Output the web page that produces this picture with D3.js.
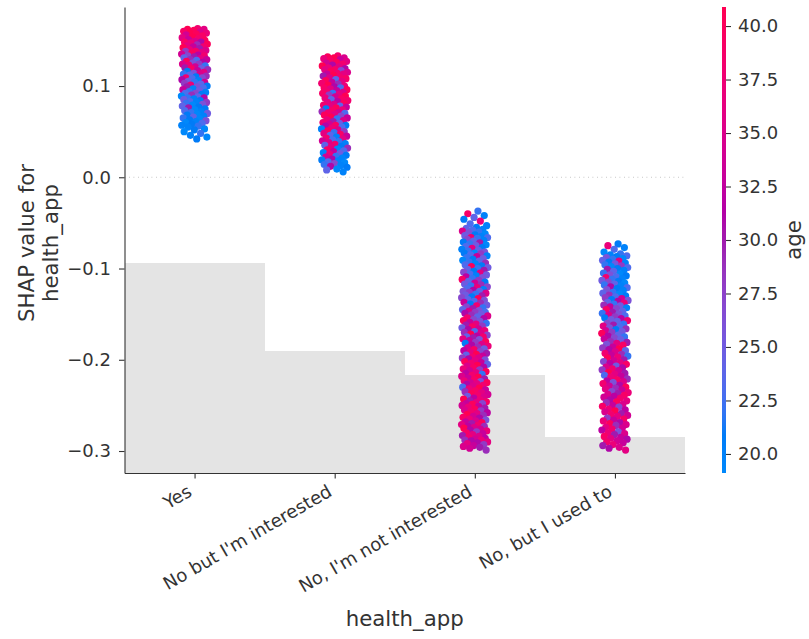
<!DOCTYPE html>
<html>
<head>
<meta charset="utf-8">
<script src="https://cdn.jsdelivr.net/npm/d3@7/dist/d3.min.js"></script>
<style>
  html, body { margin: 0; padding: 0; background: #fff; }
  svg { display: block; font-family: "DejaVu Sans", sans-serif; }
</style>
</head>
<body>
<script>
// Feature categories on the x axis
const categories = ["Yes", "No but I'm interested", "No, I'm not interested", "No, but I used to"];

// Number of respondents per category (background histogram)
const counts = [2245, 1310, 1050, 385];

// Axis ticks
const shapTicks = [0.1, 0.0, -0.1, -0.2, -0.3];
const ageTicks = [20, 22.5, 25, 27.5, 30, 32.5, 35, 37.5, 40];

// Points per category: [SHAP value x 1000, age]
const yesPoints = [[163,38],[162,41],[162,36],[161,40],[160,39],[159,35],[158,42],[158,37],[157,40],[156,34],[155,39],[154,41],[153,36],[152,38],[151,33],[150,40],
[149,35],[148,39],[148,31],[147,37],[146,40],[145,29],[144,36],[143,38],[143,33],[142,41],[141,30],[140,37],[139,35],[138,39],[138,28],[137,36],[136,40],[135,34],
[134,32],[133,27],[133,38],[132,30],[131,24],[130,36],[129,29],[129,33],[128,23],[127,40],[126,31],[125,26],[124,35],[124,28],[123,37],[122,22],[121,34],[120,30],[119,25],[119,39],[118,29],[117,33],[116,21],[115,36],
[114,26],[113,22],[113,35],[112,24],[111,29],[110,21],[109,38],[109,27],[108,23],[107,31],[106,20],[105,25],[104,34],[104,22],[103,28],[102,24],[101,37],[100,21],[99,26],[99,30],[98,23],[97,20],[96,33],[95,25],
[94,22],[93,20],[92,27],[92,23],[91,21],[90,29],[89,19],[88,24],[87,22],[87,31],[86,20],[85,25],[84,21],[83,23],[82,28],[82,20],[81,22],[80,26],[79,19],[78,24],[77,21],[76,30],
[75,21],[74,19],[73,23],[72,20],[71,22],[70,25],[69,19],[68,21],[67,20],[66,24],[65,22],[64,19],[63,21],[62,26],[61,20],[60,19],[59,23],[58,21],[57,20],[56,22],
[55,20],[53,19],[52,21],[50,19],[48,22],[46,20],[44,19],[42,21]];

const interestedPoints = [[133,38],[132,40],[131,35],[131,41],[130,37],[129,33],[128,39],[127,36],[126,40],[125,34],[124,38],[123,31],[122,41],[121,36],
[120,37],[119,31],[118,39],[118,36],[117,27],[116,40],[115,35],[114,38],[113,33],[113,36],[112,41],[111,30],[110,38],[109,35],[108,39],[107,24],[106,40],[105,36],[104,33],[103,38],[102,29],[101,41],
[100,37],[99,31],[98,39],[98,23],[97,36],[96,40],[95,33],[94,38],[93,35],[92,22],[92,39],[91,36],[90,28],[89,41],[88,34],[87,37],[86,39],[85,24],[84,38],[83,32],[82,36],[81,40],
[80,35],[79,38],[78,24],[78,36],[77,33],[76,40],[75,21],[74,37],[73,39],[72,29],[71,34],[71,38],[70,23],[69,36],[68,40],[67,27],[66,41],[65,33],[64,22],[63,37],[62,35],[61,30],
[60,38],[59,25],[58,34],[57,21],[57,39],[56,31],[55,23],[54,37],[53,20],[52,35],[51,40],[50,28],[49,22],[48,36],[47,39],[46,24],[45,33],[44,20],[43,38],[42,36],[41,23],[40,34],
[39,22],[38,35],[37,20],[36,38],[35,24],[34,21],[33,36],[32,29],[31,19],[30,39],[29,23],[28,33],[27,20],[26,25],[25,37],[24,21],[23,22],[22,34],[21,20],[20,31],
[19,21],[18,20],[17,23],[16,19],[15,27],[14,22],[13,20],[12,31],[11,21],[9,19],[8,24],[6,20]];

const notInterestedPoints = [[-37,22],[-40,39],[-42,20],[-44,24],[-46,21],[-48,37],[-51,23],[-53,20],
[-55,21],[-56,24],[-57,20],[-58,23],[-59,35],[-60,22],[-61,26],[-62,19],[-63,21],[-64,25],
[-65,20],[-66,38],[-66,23],[-67,22],[-68,27],[-69,20],[-70,24],[-71,21],[-72,30],[-73,22],
[-74,19],[-75,25],[-76,23],[-77,21],[-78,36],[-79,20],[-80,24],[-81,22],[-82,26],[-83,19],
[-83,21],[-84,28],[-85,23],[-86,20],[-87,33],[-88,22],[-89,25],[-90,21],[-91,19],[-92,24],
[-93,22],[-94,29],[-95,20],[-96,23],[-97,21],[-98,40],[-99,25],[-100,22],
[-101,24],[-102,30],[-103,21],[-104,27],[-105,36],[-106,23],[-107,25],[-108,20],[-109,32],[-110,26],
[-111,22],[-112,39],[-113,28],[-114,24],[-115,21],[-116,34],[-117,25],[-118,29],[-119,22],[-120,27],
[-121,37],[-122,23],[-123,20],[-124,31],[-125,26],[-125,24],[-126,28],[-127,35],[-128,22],[-129,25],
[-130,30],[-131,21],[-132,27],[-133,40],[-134,24],[-135,26],[-136,23],[-137,33],[-138,29],[-139,21],
[-140,25],[-141,38],[-142,27],[-143,22],[-144,30],[-145,24],[-146,26],[-147,35],[-148,23],[-148,28],
[-149,31],[-150,25],
[-151,29],[-152,35],[-153,24],[-154,38],[-155,31],[-156,27],[-157,40],[-158,26],[-159,33],[-160,22],
[-161,36],[-162,30],[-163,28],[-164,39],[-165,25],[-166,34],[-167,31],[-168,37],[-169,23],[-170,29],
[-171,35],[-172,41],[-173,27],[-174,32],[-175,24],[-175,38],[-176,30],[-177,36],[-178,26],[-179,33],
[-180,40],[-181,28],[-182,21],[-183,35],[-184,31],[-185,37],[-186,29],[-187,34],[-188,25],[-189,39],
[-190,32],[-191,27],[-192,36],[-193,30],[-194,41],[-195,24],[-196,33],[-197,38],[-198,28],[-198,35],
[-199,31],[-200,26],
[-201,36],[-202,40],[-203,33],[-204,38],[-205,24],[-206,41],[-207,35],[-208,31],[-209,39],[-210,37],
[-211,28],[-212,34],[-213,40],[-214,36],[-215,32],[-216,22],[-217,38],[-218,35],[-219,41],[-220,33],
[-221,30],[-222,39],[-223,37],[-224,26],[-225,34],[-225,40],[-226,36],[-227,31],[-228,38],[-229,35],
[-230,23],[-231,41],[-232,37],[-233,33],[-234,39],[-235,29],[-236,36],[-237,40],[-238,34],[-239,38],
[-240,25],[-241,35],[-242,32],[-243,41],[-244,37],[-245,30],[-246,39],[-247,36],[-248,33],[-248,27],
[-249,40],[-250,34],
[-251,33],[-252,37],[-253,30],[-254,40],[-255,35],[-256,28],[-257,38],[-258,32],[-259,36],[-260,41],
[-261,29],[-262,34],[-263,39],[-264,31],[-265,37],[-266,26],[-267,35],[-268,33],[-269,40],[-270,30],
[-271,36],[-272,38],[-273,32],[-273,29],[-274,35],[-275,41],[-276,34],[-277,31],[-278,37],[-279,28],
[-280,39],[-281,33],[-282,36],[-283,30],[-284,35],[-285,38],[-286,32],[-287,34],[-288,29],[-288,37],
[-289,31],[-290,36],
[-291,31],[-292,36],[-293,28],[-294,33],[-295,35],[-296,30],[-297,34],[-299,29]];

const usedToPoints = [[-73,21],[-75,37],[-77,20],[-79,23],[-82,19],[-84,22],
[-85,20],[-86,23],[-87,21],[-88,26],[-89,19],[-90,22],[-91,24],[-92,36],[-93,21],[-94,20],
[-95,25],[-96,22],[-97,28],[-98,19],[-99,23],[-100,21],[-101,30],[-102,20],[-103,24],[-105,22],
[-106,19],[-107,26],[-108,21],[-109,23],[-110,38],[-111,20],[-112,22],[-113,25],[-114,21],[-115,27],
[-116,19],[-117,24],[-118,22],[-119,20],[-120,31],[-121,23],[-122,21],[-123,26],[-124,20],[-126,22],
[-127,24],[-128,19],[-129,29],[-130,21],
[-131,23],[-132,28],[-133,34],[-134,21],[-135,26],[-136,31],[-137,24],[-138,37],[-139,22],[-140,29],
[-141,25],[-142,33],[-143,20],[-144,27],[-145,39],[-147,24],[-148,30],[-149,22],[-150,26],[-151,35],
[-152,23],[-153,28],[-154,21],[-155,32],[-156,25],[-157,38],[-158,24],[-160,27],[-161,22],[-162,30],
[-163,36],[-164,23],[-165,26],[-166,29],[-167,21],[-168,34],[-169,25],[-170,28],[-171,40],[-173,24],
[-174,31],[-175,22],[-176,27],[-177,33],[-178,25],[-180,29],
[-181,30],[-182,36],[-183,26],[-184,39],[-186,33],[-187,28],[-188,41],[-189,31],[-190,24],[-191,35],
[-193,38],[-194,29],[-195,33],[-196,22],[-197,37],[-198,40],[-200,30],[-201,34],[-202,27],[-203,36],
[-204,32],[-205,39],[-207,25],[-208,35],[-209,31],[-210,38],[-211,28],[-212,34],[-214,41],[-215,30],
[-216,36],[-217,23],[-218,33],[-219,37],[-221,29],[-222,39],[-223,32],[-224,35],[-225,26],[-226,38],
[-228,31],[-229,34],[-230,40],[-231,29],[-232,36],[-233,33],[-235,27],[-236,37],[-237,30],[-238,35],
[-239,39],[-240,32],
[-241,34],[-242,38],[-244,31],[-245,36],[-246,40],[-247,29],[-249,35],[-250,33],[-251,39],[-252,27],
[-254,37],[-255,32],[-256,41],[-257,35],[-259,30],[-260,38],[-261,34],[-262,36],[-264,28],[-265,39],
[-266,33],[-267,37],[-269,31],[-270,40],[-271,35],[-272,29],[-274,36],[-275,34],[-276,38],[-277,32],
[-279,26],[-280,37],[-281,35],[-282,30],[-284,39],[-285,33],[-286,36],[-287,31],[-289,34],[-290,38],
[-291,33],[-293,37],[-294,30],[-296,35],[-297,31],[-299,36]];

const pointsByCategory = [yesPoints, interestedPoints, notInterestedPoints, usedToPoints];

// ---------------------------------------------------------------------------
const W = 809, H = 639;
const plot = { left: 124.5, right: 685, top: 7, bottom: 473 };
const textColor = "#333333";
const tickFont = 18, labelFont = 21.3;

const svg = d3.select("body").append("svg")
  .attr("width", W).attr("height", H)
  .attr("viewBox", `0 0 ${W} ${H}`);

const x = d3.scaleLinear().domain([-0.5, 3.5]).range([plot.left, plot.right]);
const y = d3.scaleLinear().domain([-0.3241, 0.1866]).range([plot.bottom, plot.top]);
const total = d3.sum(counts);
const yHist = d3.scaleLinear().domain([0, total]).range([plot.bottom, plot.top]);
const ageDomain = [19.11, 40.89];
const ageScale = d3.scaleLinear().domain(ageDomain).range([plot.bottom, plot.top]);

// Blue -> purple -> red map interpolated in LCH space
function redBlue(t) {
  t = Math.max(0, Math.min(1, t));
  const l = t < 0.5 ? 54 + (40 - 54) * (t / 0.5) : 40 + (54 - 40) * ((t - 0.5) / 0.5);
  const c = 70 + (90 - 70) * t;
  const h = 266.93 + (380.32 - 266.93) * t;
  return d3.hcl(h % 360, c, l).formatHex();
}
const ageColor = a => redBlue((a - ageDomain[0]) / (ageDomain[1] - ageDomain[0]));

// Background histogram of category counts
svg.append("g").selectAll("rect")
  .data(counts)
  .join("rect")
  .attr("x", (d, i) => x(i - 0.5))
  .attr("width", (d, i) => x(i + 0.5) - x(i - 0.5))
  .attr("y", d => yHist(d))
  .attr("height", d => plot.bottom - yHist(d))
  .attr("fill", "#000")
  .attr("fill-opacity", 0.105)
  .attr("shape-rendering", "crispEdges");

// Zero reference line
svg.append("line")
  .attr("x1", plot.left).attr("x2", plot.right)
  .attr("y1", y(0)).attr("y2", y(0))
  .attr("stroke", "#aaaaaa").attr("stroke-width", 0.8)
  .attr("stroke-dasharray", "0.8,3.7");

// Jittered points, coloured by age
const golden = 0.6180339887;
const jitterWidth = 0.19;
const dots = svg.append("g");
pointsByCategory.forEach((pts, c) => {
  dots.selectAll(null)
    .data(pts)
    .join("circle")
    .attr("cx", (d, i) => x(c + (((i + 1) * golden) % 1 - 0.5) * jitterWidth))
    .attr("cy", d => y(d[0] / 1000))
    .attr("r", 3.6)
    .attr("fill", d => ageColor(d[1]));
});

// Y axis
const yAxis = svg.append("g")
  .attr("transform", `translate(${plot.left},0)`)
  .call(d3.axisLeft(y).tickValues(shapTicks).tickFormat(d3.format(".1f"))
    .tickSizeOuter(0).tickSizeInner(5.5).tickPadding(8));
yAxis.select(".domain").attr("stroke", textColor).attr("stroke-width", 1.1);
yAxis.selectAll(".tick line").attr("stroke", textColor).attr("stroke-width", 1.1);
yAxis.selectAll(".tick text").attr("fill", textColor)
  .style("font-size", tickFont + "px").style("font-family", "DejaVu Sans");

// X axis
const xAxis = svg.append("g")
  .attr("transform", `translate(0,${plot.bottom})`)
  .call(d3.axisBottom(x).tickValues(d3.range(categories.length)).tickFormat(i => categories[i])
    .tickSizeOuter(0).tickSizeInner(5.5));
xAxis.select(".domain").attr("stroke", textColor).attr("stroke-width", 1.1);
xAxis.selectAll(".tick line").attr("stroke", textColor).attr("stroke-width", 1.1);
xAxis.selectAll(".tick text")
  .attr("fill", textColor)
  .style("font-size", tickFont + "px").style("font-family", "DejaVu Sans")
  .attr("text-anchor", "end")
  .attr("dy", null)
  .attr("y", 0)
  .attr("transform", "translate(-2,22) rotate(-30)");

// Axis titles
svg.append("text")
  .attr("x", (plot.left + plot.right) / 2).attr("y", 626)
  .attr("text-anchor", "middle")
  .attr("fill", textColor)
  .style("font-size", labelFont + "px")
  .text("health_app");

const yTitle = svg.append("text")
  .attr("transform", `translate(0,${(plot.top + plot.bottom) / 2 + 3}) rotate(-90)`)
  .attr("text-anchor", "middle")
  .attr("fill", textColor)
  .style("font-size", labelFont + "px");
yTitle.append("tspan").attr("x", 0).attr("y", 34).text("SHAP value for");
yTitle.append("tspan").attr("x", 0).attr("y", 58).text("health_app");

// Colour bar for age
const defs = svg.append("defs");
const grad = defs.append("linearGradient")
  .attr("id", "ageGradient")
  .attr("x1", 0).attr("y1", 1).attr("x2", 0).attr("y2", 0);
d3.range(0, 1.0001, 0.02).forEach(t => {
  grad.append("stop").attr("offset", t).attr("stop-color", redBlue(t));
});
const cbX = 722, cbW = 4;
svg.append("rect")
  .attr("x", cbX).attr("y", plot.top)
  .attr("width", cbW).attr("height", plot.bottom - plot.top)
  .attr("fill", "url(#ageGradient)");

const cAxis = svg.append("g")
  .attr("transform", `translate(${cbX + cbW},0)`)
  .call(d3.axisRight(ageScale).tickValues(ageTicks).tickFormat(d3.format(".1f"))
    .tickSizeOuter(0).tickSizeInner(5).tickPadding(7));
cAxis.select(".domain").remove();
cAxis.selectAll(".tick line").attr("stroke", textColor).attr("stroke-width", 1.1);
cAxis.selectAll(".tick text").attr("fill", textColor)
  .style("font-size", tickFont + "px").style("font-family", "DejaVu Sans");

svg.append("text")
  .attr("transform", `translate(801,${(plot.top + plot.bottom) / 2}) rotate(-90)`)
  .attr("text-anchor", "middle")
  .attr("fill", textColor)
  .style("font-size", labelFont + "px")
  .text("age");
</script>
</body>
</html>
